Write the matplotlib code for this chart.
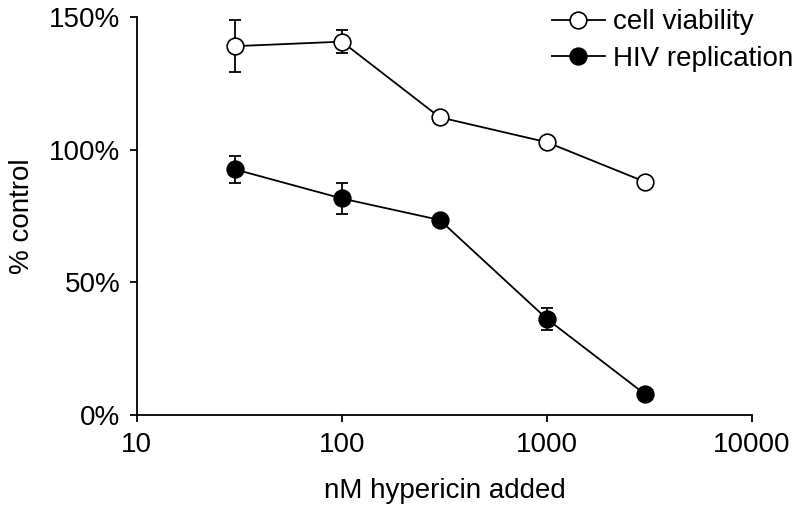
import matplotlib
matplotlib.use("Agg")
import matplotlib.pyplot as plt
from matplotlib.ticker import FuncFormatter

plt.rcParams['font.family'] = ['Liberation Sans', 'DejaVu Sans']

conc = [30, 100, 300, 1000, 3000]
viability = [139, 140.7, 112.2, 102.8, 87.9]
viability_err = [9.7, 4.4, 0, 0, 0]
hiv = [92.6, 81.6, 73.5, 36.2, 7.9]
hiv_err = [5.0, 6.0, 0, 4.2, 0]

fig = plt.figure(figsize=(8, 5.07), dpi=100)
ax = fig.add_axes([0.171, 0.1815, 0.769, 0.785])

# error bars drawn separately so the legend shows only line + marker
ax.errorbar(conc, viability, yerr=viability_err, fmt='none', ecolor='black',
            capsize=4.5, elinewidth=1.3, capthick=1.3)
ax.errorbar(conc, hiv, yerr=hiv_err, fmt='none', ecolor='black',
            capsize=4.5, elinewidth=1.3, capthick=1.3)
ax.plot(conc, viability, color='black', lw=1.3, marker='o', markersize=12,
        markerfacecolor='white', markeredgecolor='black', markeredgewidth=1.2,
        label='cell viability', zorder=3)
ax.plot(conc, hiv, color='black', lw=1.3, marker='o', markersize=12,
        markerfacecolor='black', markeredgecolor='black', markeredgewidth=1.2,
        label='HIV replication', zorder=3)

ax.set_xscale('log')
ax.set_xlim(10, 10000)
ax.set_ylim(0, 150)
ax.set_xticks([10, 100, 1000, 10000])
ax.set_xticklabels(['10', '100', '1000', '10000'])
ax.minorticks_off()
ax.set_yticks([0, 50, 100, 150])
ax.yaxis.set_major_formatter(FuncFormatter(lambda v, p: f"{v:.0f}%"))

for s in ['top', 'right']:
    ax.spines[s].set_visible(False)
for s in ['left', 'bottom']:
    ax.spines[s].set_linewidth(1.3)
ax.tick_params(direction='out', length=5, width=1.3, labelsize=20, pad=7)

ax.set_xlabel('nM hypericin added', fontsize=20, labelpad=15)
ax.set_ylabel('% control', fontsize=20, labelpad=10)

ax.legend(loc='upper right', bbox_to_anchor=(1.085, 1.047), frameon=False,
          fontsize=20, handlelength=1.9, handletextpad=0.3, labelspacing=0.38,
          borderaxespad=0)

fig.savefig('out.png', dpi=100)
